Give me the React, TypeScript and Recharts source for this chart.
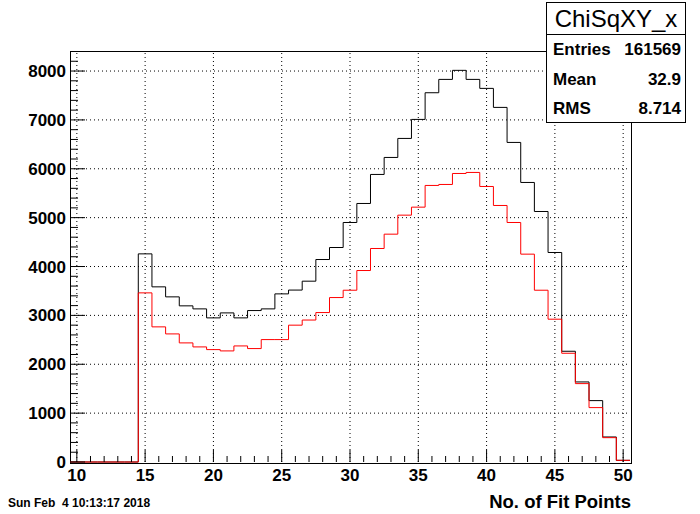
import React from "react";
import { ComposedChart, Line, XAxis, YAxis, ReferenceLine } from "recharts";

// bin centres (No. of Fit Points), one entry per bin of width 1
const bins = [
  10, 11, 12, 13, 14, 15, 16, 17, 18, 19, 20, 21, 22, 23, 24, 25, 26, 27, 28, 29,
  30, 31, 32, 33, 34, 35, 36, 37, 38, 39, 40, 41, 42, 43, 44, 45, 46, 47, 48, 49, 50,
];

const blackCounts = [
  0, 0, 0, 0, 0, 4259, 3584, 3379, 3195, 3133, 2949, 3051, 2949, 3099, 3133, 3440,
  3518, 3700, 4143, 4389, 4901, 5290, 5884, 6232, 6621, 7010, 7556, 7829, 8014,
  7829, 7645, 7256, 6539, 5720, 5126, 4287, 2266, 1638, 1256, 512, 34,
];

const redCounts = [
  0, 0, 0, 0, 0, 3461, 2765, 2621, 2437, 2355, 2300, 2273, 2375, 2321, 2505, 2505,
  2800, 2905, 3058, 3365, 3515, 3918, 4369, 4662, 5051, 5215, 5659, 5679, 5904,
  5925, 5638, 5249, 4901, 4253, 3515, 2922, 2225, 1604, 1113, 498, 34,
];

const xMajorTicks = [10, 15, 20, 25, 30, 35, 40, 45, 50];
const yGridTicks = [1000, 2000, 3000, 4000, 5000, 6000, 7000, 8000];

const statsTitle = "ChiSqXY_x";
const statsRows = [
  { label: "Entries", value: "161569" },
  { label: "Mean", value: "32.9" },
  { label: "RMS", value: "8.714" },
];

const xMin = 9.5;
const xMax = 50.5;
const yMax = 8410;

// step outline: one point per lower bin edge, plus the last upper edge
const stepData = bins.map((b, i) => ({
  edge: b - 0.5,
  black: blackCounts[i],
  red: redCounts[i],
}));
stepData.push({
  edge: bins[bins.length - 1] + 0.5,
  black: blackCounts[blackCounts.length - 1],
  red: redCounts[redCounts.length - 1],
});

const xAllTicks: number[] = [];
for (let v = 10; v <= 50; v++) xAllTicks.push(v);
const yAllTicks: number[] = [];
for (let v = 0; v <= 8400; v += 200) yAllTicks.push(v);

const FONT = "'Liberation Sans', Arial, Helvetica, sans-serif";

// plot frame, matches chart margins below
const PLOT = { left: 70, top: 51, right: 630, bottom: 462 };

function XTick(props: any) {
  const { x, y, payload } = props;
  const major = payload.value % 5 === 0;
  return (
    <g>
      <line x1={x} x2={x} y1={y} y2={y - (major ? 12 : 6)} stroke="#000" />
      {major && (
        <text
          x={x}
          y={y + 19}
          textAnchor="middle"
          fontFamily={FONT}
          fontWeight="bold"
          fontSize={17}
          fill="#000"
        >
          {payload.value}
        </text>
      )}
    </g>
  );
}

function YTick(props: any) {
  const { x, y, payload } = props;
  const major = payload.value % 1000 === 0;
  return (
    <g>
      <line x1={x} x2={x + (major ? 15 : 8)} y1={y} y2={y} stroke="#000" />
      {major && (
        <text
          x={x - 4}
          y={y + 6}
          textAnchor="end"
          fontFamily={FONT}
          fontWeight="bold"
          fontSize={17}
          fill="#000"
        >
          {payload.value}
        </text>
      )}
    </g>
  );
}

export default function App() {
  return (
    <div
      style={{
        position: "absolute",
        left: 0,
        top: 0,
        width: 700,
        height: 514,
        background: "#fff",
        fontFamily: FONT,
      }}
    >
      <div
        style={{
          position: "absolute",
          left: PLOT.left - 0.5,
          top: PLOT.top - 0.5,
          width: PLOT.right - PLOT.left,
          height: PLOT.bottom - PLOT.top,
          border: "1px solid #000",
        }}
      />
      <ComposedChart
        width={700}
        height={514}
        data={stepData}
        margin={{ top: PLOT.top, right: 700 - PLOT.right, bottom: 0, left: 0 }}
      >
        <XAxis
          type="number"
          dataKey="edge"
          domain={[xMin, xMax]}
          ticks={xAllTicks}
          interval={0}
          height={514 - PLOT.bottom}
          tickSize={0}
          tickMargin={0}
          tickLine={false}
          axisLine={false}
          tick={<XTick />}
        />
        <YAxis
          type="number"
          domain={[0, yMax]}
          ticks={yAllTicks}
          interval={0}
          width={PLOT.left}
          tickSize={0}
          tickMargin={0}
          tickLine={false}
          axisLine={false}
          tick={<YTick />}
        />
        {xMajorTicks.map((v) => (
          <ReferenceLine
            key={"gx" + v}
            x={v}
            stroke="#000"
            strokeDasharray="1 3"
          />
        ))}
        {yGridTicks.map((v) => (
          <ReferenceLine
            key={"gy" + v}
            y={v}
            stroke="#000"
            strokeDasharray="1 3"
          />
        ))}
        <Line
          type="stepAfter"
          dataKey="black"
          stroke="#000"
          strokeWidth={1}
          dot={false}
          isAnimationActive={false}
        />
        <Line
          type="stepAfter"
          dataKey="red"
          stroke="#ff0000"
          strokeWidth={1}
          dot={false}
          isAnimationActive={false}
        />
      </ComposedChart>

      <div
        style={{
          position: "absolute",
          left: 546,
          top: 2,
          width: 140,
          height: 121,
          border: "1px solid #000",
          background: "#fff",
          boxSizing: "border-box",
        }}
      >
        <div
          style={{
            height: 31,
            borderBottom: "1px solid #000",
            fontSize: 24,
            lineHeight: "31px",
            textAlign: "center",
          }}
        >
          {statsTitle}
        </div>
        {statsRows.map((r) => (
          <div
            key={r.label}
            style={{
              display: "flex",
              justifyContent: "space-between",
              padding: "0 4px 0 6px",
              height: 29.5,
              lineHeight: "29.5px",
              fontSize: 17,
              fontWeight: "bold",
            }}
          >
            <span>{r.label}</span>
            <span>{r.value}</span>
          </div>
        ))}
      </div>

      <div
        style={{
          position: "absolute",
          left: 8,
          top: 496,
          fontSize: 12,
          fontWeight: "bold",
          whiteSpace: "pre",
        }}
      >
        {"Sun Feb  4 10:13:17 2018"}
      </div>
      <div
        style={{
          position: "absolute",
          right: 69,
          top: 491,
          fontSize: 18.5,
          fontWeight: "bold",
          whiteSpace: "pre",
        }}
      >
        No. of Fit Points
      </div>
    </div>
  );
}
